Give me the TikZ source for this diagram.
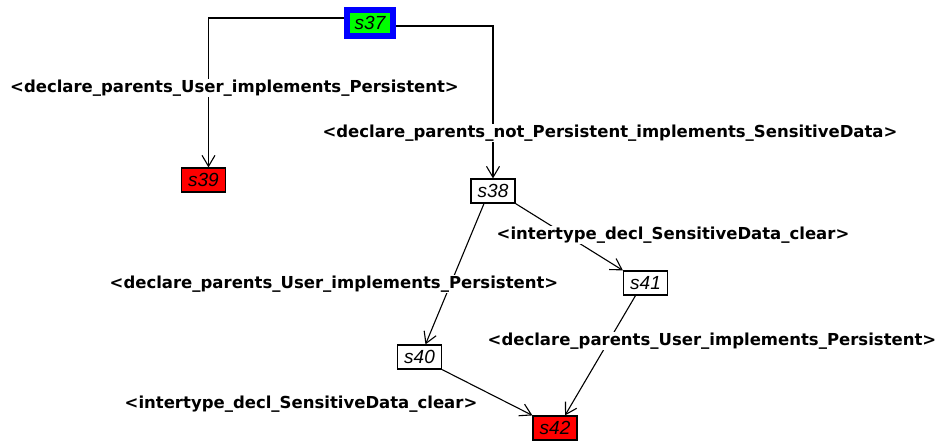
\documentclass[tikz,border=0pt]{standalone}
\usepackage{fontspec}
\usetikzlibrary{arrows.meta}
\newfontfamily\lblfont{DejaVu Sans}
\newfontfamily\statefont{Liberation Sans}
\definecolor{stgreen}{RGB}{0,255,0}
\definecolor{stblue}{RGB}{0,0,255}
\definecolor{stred}{RGB}{255,0,0}
\tikzset{
  state/.style={draw=black, line width=1.2pt, minimum width=44pt, minimum height=24pt,
    inner sep=0pt, font=\statefont\itshape\fontsize{19}{19}\selectfont},
  initstate/.style={state, draw=stblue, fill=stgreen, line width=6pt, minimum width=46pt, minimum height=26pt},
  failstate/.style={state, fill=stred},
  trans/.style={line width=1.1pt, -{Straight Barb[length=11pt,width=13pt,line width=1.1pt]}},
  tlabel/.style={fill=white, inner sep=1pt, font=\lblfont\bfseries\fontsize{16.5}{18}\selectfont}
}
\begin{document}
\begin{tikzpicture}[x=1pt, y=-1pt]
  \useasboundingbox (0,0) rectangle (944,440);
  \node[initstate] (s37) at (370,23) {s37};
  \node[failstate] (s39) at (203.5,180) {s39};
  \node[state] (s38) at (493,191) {s38};
  \node[state] (s41) at (645.5,283) {s41};
  \node[state] (s40) at (419.5,357) {s40};
  \node[failstate] (s42) at (555,428) {s42};

  \draw[trans] ([yshift=5pt]s37.west) -| ([xshift=5pt]s39.north);
  \draw[trans] ([yshift=-3pt]s37.east) -| (s38.north);
  \draw[trans] ([xshift=-9pt]s38.south) -- ([xshift=6pt]s40.north);
  \draw[trans] (s38.south east) -- (s41.north west);
  \draw[trans] ([xshift=-10pt]s41.south) -- ([xshift=10pt]s42.north);
  \draw[trans] (s40.south east) -- (s42.north west);

  \node[tlabel] (l1) at (234.5,88) {<declare\_parents\_User\_implements\_Persistent>};
  \node[tlabel] (l2) at (610,133) {<declare\_parents\_not\_Persistent\_implements\_SensitiveData>};
  \node[tlabel] (l3) at (673,235) {<intertype\_decl\_SensitiveData\_clear>};
  \node[tlabel] (l4) at (334,284) {<declare\_parents\_User\_implements\_Persistent>};
  \node[tlabel] (l5) at (712,341) {<declare\_parents\_User\_implements\_Persistent>};
  \node[tlabel] (l6) at (301,404) {<intertype\_decl\_SensitiveData\_clear>};
\end{tikzpicture}
\end{document}
